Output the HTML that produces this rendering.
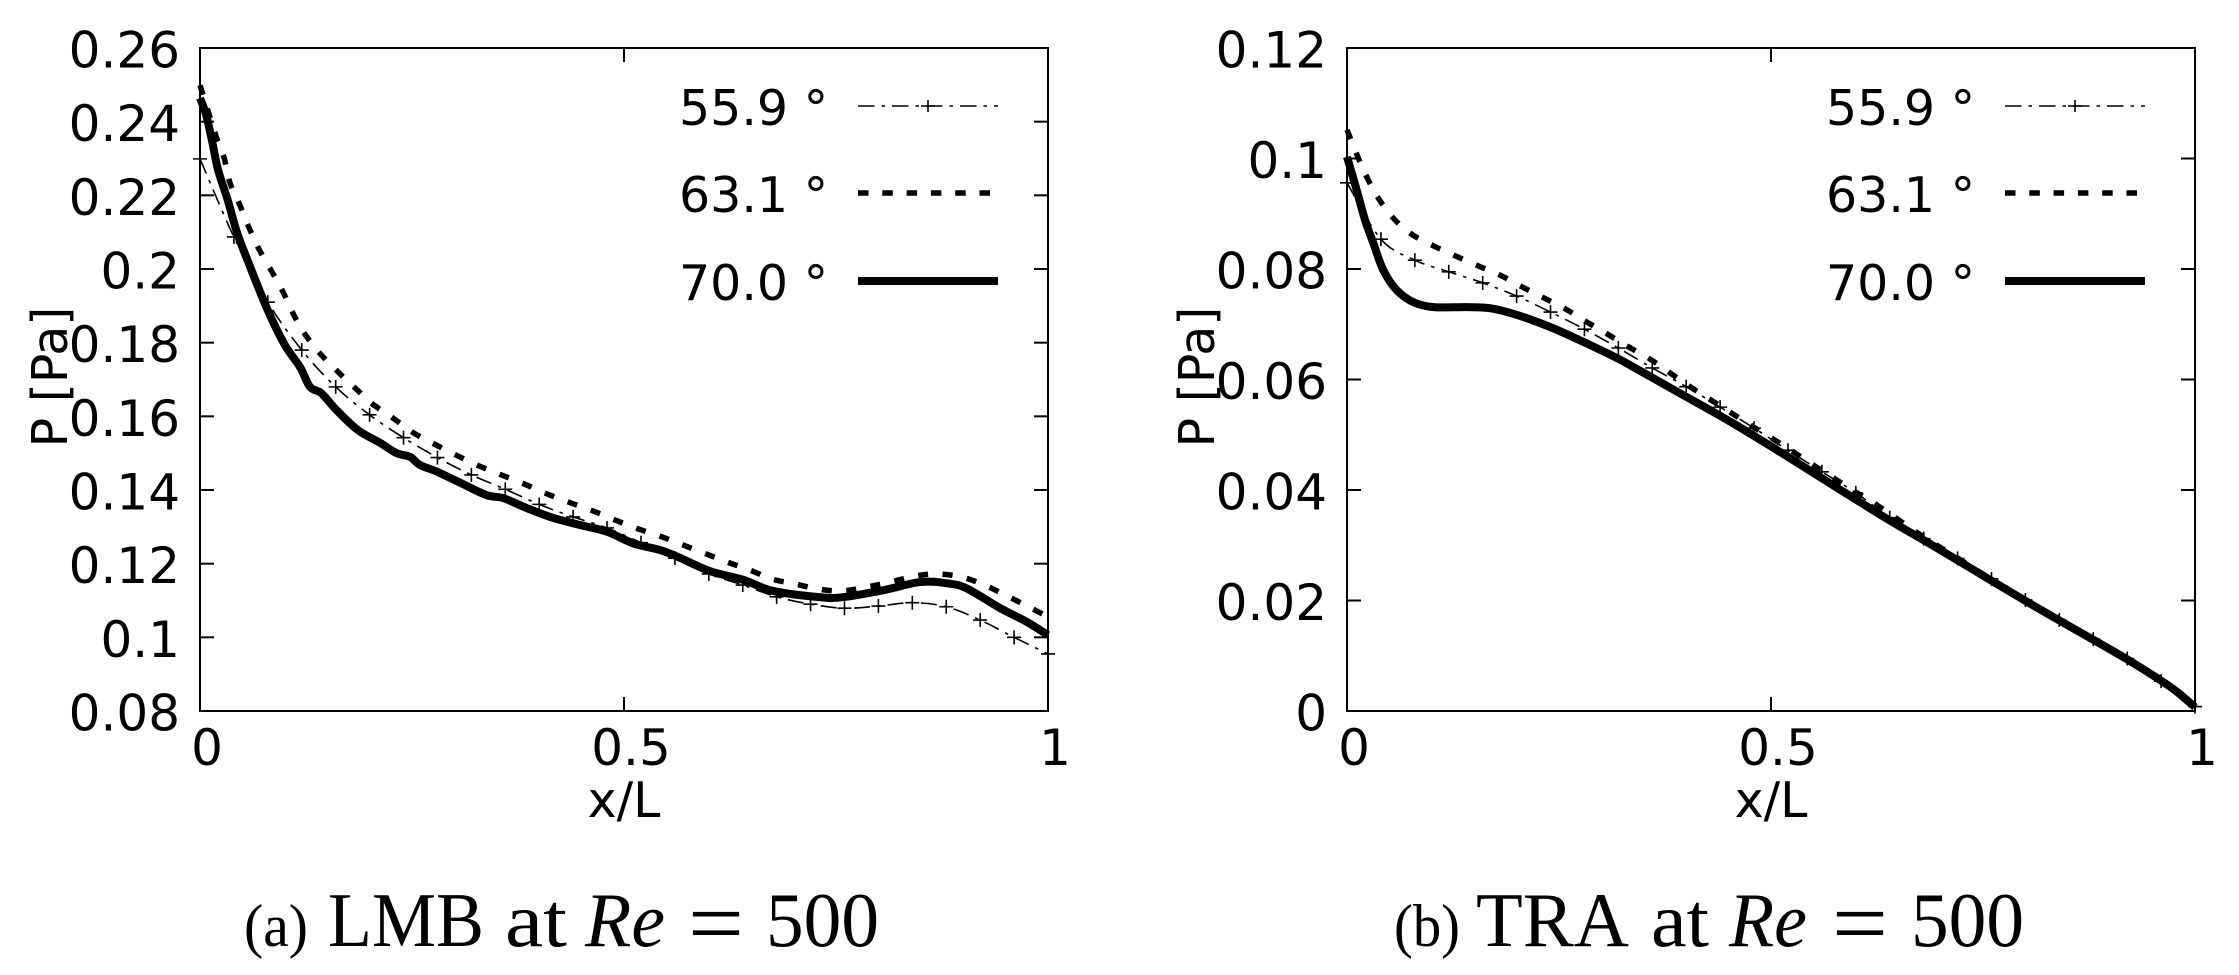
<!DOCTYPE html>
<html lang="en">
<head>
<meta charset="utf-8">
<title>Pressure along x/L: LMB and TRA at Re = 500</title>
<style>
html,body{margin:0;padding:0;background:#fff;}
svg{display:block;}
text{fill:#000;}
.tick{font-family:"DejaVu Sans",sans-serif;font-size:50px;}
.axis{font-family:"DejaVu Sans",sans-serif;font-size:49px;}
.cap{font-family:"Liberation Serif",serif;}
</style>
</head>
<body>
<svg id="figure" xmlns="http://www.w3.org/2000/svg" width="2239" height="975" viewBox="0 0 2239 975">
  <rect width="2239" height="975" fill="#fff"/>
  <g id="chart-a"></g>
  <g id="chart-b"></g>
  <g class="cap">
    <text x="244" y="946" font-size="60" textLength="64" lengthAdjust="spacingAndGlyphs">(a)</text>
    <text x="328" y="946" font-size="77" textLength="156" lengthAdjust="spacingAndGlyphs">LMB</text>
    <text x="505" y="946" font-size="77" textLength="62" lengthAdjust="spacingAndGlyphs">at</text>
    <text x="585" y="946" font-size="77" font-style="italic" textLength="80" lengthAdjust="spacingAndGlyphs">Re</text>
    <text x="688" y="954" font-size="92" textLength="56" lengthAdjust="spacingAndGlyphs">=</text>
    <text x="766" y="946" font-size="77" textLength="113" lengthAdjust="spacingAndGlyphs">500</text>
  </g>
  <g class="cap">
    <text x="1394" y="946" font-size="60" textLength="66" lengthAdjust="spacingAndGlyphs">(b)</text>
    <text x="1476" y="946" font-size="77" textLength="153" lengthAdjust="spacingAndGlyphs">TRA</text>
    <text x="1651" y="946" font-size="77" textLength="58" lengthAdjust="spacingAndGlyphs">at</text>
    <text x="1729" y="946" font-size="77" font-style="italic" textLength="78" lengthAdjust="spacingAndGlyphs">Re</text>
    <text x="1832" y="954" font-size="92" textLength="56" lengthAdjust="spacingAndGlyphs">=</text>
    <text x="1911" y="946" font-size="77" textLength="113" lengthAdjust="spacingAndGlyphs">500</text>
  </g>
</svg>
<script>
const legendLabels = ["55.9 °", "63.1 °", "70.0 °"];
const xTickValues = [0, 0.5, 1];
const xTickLabels = ["0", "0.5", "1"];

const aYTickValues = [0.08, 0.1, 0.12, 0.14, 0.16, 0.18, 0.2, 0.22, 0.24, 0.26];
const aYTickLabels = ["0.08", "0.1", "0.12", "0.14", "0.16", "0.18", "0.2", "0.22", "0.24", "0.26"];
const bYTickValues = [0, 0.02, 0.04, 0.06, 0.08, 0.1, 0.12];
const bYTickLabels = ["0", "0.02", "0.04", "0.06", "0.08", "0.1", "0.12"];

const markerX = [0, 0.04, 0.08, 0.12, 0.16, 0.2, 0.24, 0.28, 0.32, 0.36, 0.4, 0.44, 0.48, 0.52, 0.56, 0.6, 0.64, 0.68, 0.72, 0.76, 0.8, 0.84, 0.88, 0.92, 0.96, 1];

const aAngle559 = [0.2299, 0.2087, 0.191, 0.178, 0.168, 0.1604, 0.1542, 0.1488, 0.1441, 0.1402, 0.1361, 0.1327, 0.1297, 0.1257, 0.1215, 0.1172, 0.1142, 0.111, 0.109, 0.1079, 0.1085, 0.1094, 0.1083, 0.1047, 0.1, 0.0955];

const aAngle631X = [0, 0.0191, 0.0282, 0.035, 0.0462, 0.0575, 0.0688, 0.0837, 0.0972, 0.1094, 0.1229, 0.141, 0.1604, 0.1816, 0.202, 0.226, 0.2497, 0.2744, 0.3, 0.3265, 0.353, 0.3797, 0.4065, 0.4335, 0.4603, 0.487, 0.5133, 0.5408, 0.567, 0.594, 0.621, 0.648, 0.675, 0.702, 0.729, 0.757, 0.785, 0.814, 0.842, 0.869, 0.898, 0.925, 0.952, 0.978, 1];
const aAngle631 = [0.2499, 0.2359, 0.2304, 0.2236, 0.2178, 0.2114, 0.2057, 0.1997, 0.1941, 0.1881, 0.1826, 0.1772, 0.1726, 0.168, 0.1636, 0.1598, 0.1558, 0.1527, 0.1497, 0.1468, 0.1443, 0.1419, 0.1392, 0.1368, 0.1346, 0.1321, 0.1297, 0.1276, 0.1253, 0.1229, 0.1205, 0.1183, 0.1158, 0.1145, 0.1131, 0.1126, 0.1136, 0.115, 0.1166, 0.1172, 0.1164, 0.1142, 0.1112, 0.1082, 0.1055];

const aAngle700X = [0, 0.0073, 0.0147, 0.0213, 0.0327, 0.0438, 0.0574, 0.0797, 0.1, 0.1179, 0.1297, 0.143, 0.161, 0.186, 0.2123, 0.2319, 0.2476, 0.2594, 0.2791, 0.3066, 0.338, 0.3577, 0.3852, 0.4167, 0.4481, 0.4796, 0.511, 0.5425, 0.564, 0.601, 0.6407, 0.676, 0.731, 0.758, 0.806, 0.849, 0.88, 0.904, 0.943, 0.975, 1];
const aAngle700 = [0.2464, 0.2418, 0.2342, 0.2269, 0.2187, 0.2098, 0.2016, 0.1889, 0.1794, 0.1734, 0.168, 0.1663, 0.1617, 0.1563, 0.1528, 0.15, 0.149, 0.1468, 0.145, 0.142, 0.1386, 0.1378, 0.1351, 0.1324, 0.1305, 0.1287, 0.1255, 0.1237, 0.1218, 0.118, 0.1156, 0.1126, 0.1109, 0.1109, 0.1128, 0.115, 0.1147, 0.1133, 0.108, 0.1042, 0.1006];

const bAngle559 = [0.0956, 0.0854, 0.0816, 0.0795, 0.0775, 0.0751, 0.0722, 0.0691, 0.0657, 0.0621, 0.0587, 0.055, 0.0512, 0.0472, 0.0433, 0.0395, 0.035, 0.0312, 0.0276, 0.0239, 0.0201, 0.0165, 0.013, 0.0095, 0.0054, 0.0008];

const bAngle631X = [0, 0.0114, 0.0232, 0.037, 0.0546, 0.0762, 0.1018, 0.1274, 0.1541, 0.1805, 0.206, 0.2317, 0.2572, 0.2828, 0.3083, 0.332, 0.3573, 0.3809, 0.4045, 0.428, 0.4536, 0.4772, 0.5027, 0.5263, 0.55, 0.5735, 0.601, 0.6246, 0.68, 0.72, 0.76, 0.8, 0.84, 0.88, 0.92, 0.96, 1];
const bAngle631 = [0.1052, 0.1008, 0.0967, 0.0928, 0.0892, 0.0863, 0.0842, 0.0824, 0.0806, 0.0789, 0.0768, 0.0748, 0.0728, 0.0704, 0.0681, 0.0659, 0.0637, 0.0612, 0.0587, 0.0564, 0.0539, 0.0516, 0.0492, 0.0469, 0.0445, 0.0422, 0.0395, 0.0373, 0.0315, 0.0277, 0.0238, 0.0201, 0.0165, 0.013, 0.0094, 0.0055, 0.0007];

const bAngle700X = [0, 0.0114, 0.0212, 0.031, 0.0428, 0.0585, 0.0782, 0.1018, 0.141, 0.1686, 0.2, 0.2395, 0.2788, 0.318, 0.3337, 0.3927, 0.4517, 0.5106, 0.5696, 0.605, 0.6442, 0.6836, 0.723, 0.762, 0.8015, 0.841, 0.88, 0.9195, 0.959, 0.9786, 1];
const bAngle700 = [0.1003, 0.0943, 0.0889, 0.0847, 0.0798, 0.0762, 0.074, 0.0731, 0.0731, 0.0729, 0.0717, 0.0695, 0.0668, 0.0639, 0.0626, 0.0575, 0.0524, 0.0469, 0.0412, 0.0378, 0.0341, 0.0306, 0.027, 0.0234, 0.0198, 0.0163, 0.0129, 0.0094, 0.0056, 0.0035, 0.0007];

const NS = "http://www.w3.org/2000/svg";

function make(parent, tag, attrs, text) {
  const el = document.createElementNS(NS, tag);
  for (const k in attrs) el.setAttribute(k, attrs[k]);
  if (text !== undefined) el.textContent = text;
  parent.appendChild(el);
  return el;
}

// Smooth path through the data points (Catmull-Rom to cubic Bezier).
function smoothPath(xs, ys, sx, sy) {
  const p = xs.map((x, i) => [sx(x), sy(ys[i])]);
  let d = "M" + p[0][0].toFixed(2) + " " + p[0][1].toFixed(2);
  for (let i = 0; i < p.length - 1; i++) {
    const a = p[Math.max(i - 1, 0)], b = p[i], c = p[i + 1], e = p[Math.min(i + 2, p.length - 1)];
    const c1x = b[0] + (c[0] - a[0]) / 6, c1y = b[1] + (c[1] - a[1]) / 6;
    const c2x = c[0] - (e[0] - b[0]) / 6, c2y = c[1] - (e[1] - b[1]) / 6;
    d += "C" + c1x.toFixed(2) + " " + c1y.toFixed(2) + " " + c2x.toFixed(2) + " " + c2y.toFixed(2) + " " + c[0].toFixed(2) + " " + c[1].toFixed(2);
  }
  return d;
}

function drawChart(cfg) {
  const g = document.getElementById(cfg.id);
  const L = cfg.left, R = cfg.left + 848, T = 48, B = 711;
  const sx = v => L + v * (R - L);
  const sy = v => B - (v - cfg.yMin) / (cfg.yMax - cfg.yMin) * (B - T);

  // ticks
  cfg.yTicks.forEach((v, i) => {
    const y = sy(v);
    const t1 = make(g, "line", {x1: L, x2: L + 14, y1: y, y2: y, stroke: "#000", "stroke-width": 2});
    
    
    const t2 = make(g, "line", {x1: R - 14, x2: R, y1: y, y2: y, stroke: "#000", "stroke-width": 2});
    
    
    const lab = make(g, "text", {x: cfg.yLabelX, y: y + 19.5, "text-anchor": "end", class: "tick"}, cfg.yLabels[i]);
    
    
  });
  xTickValues.forEach((v, i) => {
    const x = sx(v);
    const t1 = make(g, "line", {x1: x, x2: x, y1: B, y2: B - 14, stroke: "#000", "stroke-width": 2});
    
    
    const t2 = make(g, "line", {x1: x, x2: x, y1: T, y2: T + 14, stroke: "#000", "stroke-width": 2});
    
    
    const lab = make(g, "text", {x: x + 7, y: 765, "text-anchor": "middle", class: "tick"}, xTickLabels[i]);
    
    
  });

  // series 55.9
  const s1 = make(g, "path", {d: smoothPath(markerX, cfg.s1, sx, sy), fill: "none", stroke: "#000", "stroke-width": 1.6, "stroke-dasharray": "16 7 3.5 7"});
  
  
  markerX.forEach((x, i) => {
    const m = make(g, "path", {d: "M" + (sx(x) - 7) + " " + sy(cfg.s1[i]) + "h14M" + sx(x) + " " + (sy(cfg.s1[i]) - 7) + "v14", stroke: "#000", "stroke-width": 1.6, fill: "none"});
    
    
  });
  // series 63.1
  const s2 = make(g, "path", {d: smoothPath(cfg.s2x, cfg.s2, sx, sy), fill: "none", stroke: "#000", "stroke-width": 5.5, "stroke-dasharray": "10 14.5"});
  
  
  // series 70.0
  const s3 = make(g, "path", {d: smoothPath(cfg.s3x, cfg.s3, sx, sy), fill: "none", stroke: "#000", "stroke-width": 8, "stroke-linejoin": "round"});
  
  

  // frame
  const frame = make(g, "rect", {x: L, y: T, width: R - L, height: B - T, fill: "none", stroke: "#000", "stroke-width": 2});
  
  

  // axis titles
  const xt = make(g, "text", {x: L + 424, y: 817, "text-anchor": "middle", class: "axis"}, "x/L");
  
  
  const yt = make(g, "text", {transform: "translate(" + cfg.yTitleX + ",377) rotate(-90)", "text-anchor": "middle", class: "axis"}, "P [Pa]");
  
  

  // legend
  const lx1 = L + 658, lx2 = L + 798;
  const ly = [106, 193, 281];
  legendLabels.forEach((t, i) => {
    const lab = make(g, "text", {x: L + 479, y: ly[i] + 19, class: "axis"}, t);
    
    
  });
  const l1 = make(g, "line", {x1: lx1, x2: lx2, y1: ly[0], y2: ly[0], stroke: "#000", "stroke-width": 1.6, "stroke-dasharray": "16.5 7 3.5 7"});
  
  
  const lm = make(g, "path", {d: "M" + (lx1 + 63) + " " + ly[0] + "h14M" + (lx1 + 70) + " " + (ly[0] - 6) + "v12", stroke: "#000", "stroke-width": 1.6, fill: "none"});
  
  
  const l2 = make(g, "line", {x1: lx1, x2: lx2, y1: ly[1], y2: ly[1], stroke: "#000", "stroke-width": 5.5, "stroke-dasharray": "10.5 13.8"});
  
  
  const l3 = make(g, "line", {x1: lx1, x2: lx2, y1: ly[2], y2: ly[2], stroke: "#000", "stroke-width": 8});
  
  
}

drawChart({id: "chart-a", left: 200, yMin: 0.08, yMax: 0.26, yTicks: aYTickValues, yLabels: aYTickLabels, yLabelX: 180, yTitleX: 67,
  s1: aAngle559, s2x: aAngle631X, s2: aAngle631, s3x: aAngle700X, s3: aAngle700});
drawChart({id: "chart-b", left: 1347, yMin: 0, yMax: 0.12, yTicks: bYTickValues, yLabels: bYTickLabels, yLabelX: 1327, yTitleX: 1214,
  s1: bAngle559, s2x: bAngle631X, s2: bAngle631, s3x: bAngle700X, s3: bAngle700});
</script>
</body>
</html>
